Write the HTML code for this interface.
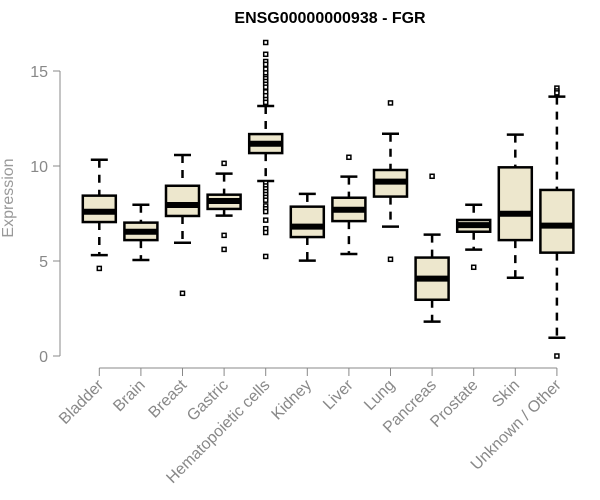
<!DOCTYPE html>
<html><head><meta charset="utf-8"><style>
body{margin:0;background:#fff}
svg{display:block;font-family:"Liberation Sans",Arial,sans-serif}
</style></head><body>
<svg id="chart" width="600" height="500">
<text x="330" y="23" text-anchor="middle" font-size="16" font-weight="bold">ENSG00000000938 - FGR</text>
<text transform="translate(13,198) rotate(-90)" text-anchor="middle" font-size="16" fill="#999">Expression</text>
<g id="yaxis"></g>
<g id="xaxis"></g>
<g id="boxes"></g>
</svg>
<script>
const categories=["Bladder","Brain","Breast","Gastric","Hematopoietic cells","Kidney","Liver","Lung","Pancreas","Prostate","Skin","Unknown / Other"];
const whiskerLow=[5.31,5.05,5.96,7.39,9.21,5.02,5.37,6.81,1.81,5.6,4.12,0.96];
const q1=[7.05,6.1,7.37,7.74,10.68,6.26,7.1,8.39,2.96,6.54,6.1,5.44];
const median=[7.59,6.54,7.95,8.16,11.17,6.81,7.7,9.18,4.07,6.89,7.49,6.86];
const q3=[8.44,7.02,8.96,8.49,11.68,7.86,8.33,9.79,5.18,7.16,9.93,8.74];
const whiskerHigh=[10.33,7.96,10.58,9.6,13.16,8.53,9.44,11.7,6.39,7.96,11.65,13.65];
const outliers=[[4.61],[],[3.3],[10.14,6.35,5.61],
[16.5,15.88,15.5,15.35,15.1,14.9,14.7,14.6,14.45,14.3,14.15,13.9,13.7,13.5,13.35,9.1,8.95,8.8,8.65,8.5,8.35,8.2,7.9,7.75,7.6,7.15,6.7,6.5,5.24],
[],[10.46],[13.32,5.09],[9.46],[4.67],[],[14.1,13.95,13.85,0]];
const yTicks=[0,5,10,15];
const NS="http://www.w3.org/2000/svg";
const y=v=>356-v*19;
const x=i=>99.3+i*41.6;
function mk(tag,attrs,parent){const e=document.createElementNS(NS,tag);for(const k in attrs)e.setAttribute(k,attrs[k]);parent.appendChild(e);return e;}
const ya=document.getElementById('yaxis'),xa=document.getElementById('xaxis'),bx=document.getElementById('boxes');
mk('line',{x1:60,x2:60,y1:y(15),y2:y(0),stroke:'#888','stroke-width':1},ya);
yTicks.forEach(t=>{
 mk('line',{x1:53,x2:60,y1:y(t),y2:y(t),stroke:'#888'},ya);
 const tx=mk('text',{x:48,y:y(t)+6,'text-anchor':'end','font-size':16,fill:'#888'},ya);
 
 
 tx.textContent=t;
});
mk('line',{x1:x(0),x2:x(11),y1:368,y2:368,stroke:'#888'},xa);
categories.forEach((c,i)=>{
 mk('line',{x1:x(i),x2:x(i),y1:368,y2:376,stroke:'#888'},xa);
 const tx=mk('text',{transform:`translate(${x(i)+5},386) rotate(-45)`,'text-anchor':'end','font-size':16,fill:'#888'},xa);
 
 
 tx.textContent=c;
 const g=mk('g',{},bx);
 
 
 const cx=x(i),w=33,cw=17;
 mk('line',{x1:cx,x2:cx,y1:y(whiskerHigh[i]),y2:y(q3[i]),stroke:'#000','stroke-width':2.5,'stroke-dasharray':'8,7'},g);
 mk('line',{x1:cx,x2:cx,y1:y(q1[i]),y2:y(whiskerLow[i]),stroke:'#000','stroke-width':2.5,'stroke-dasharray':'8,7'},g);
 mk('line',{x1:cx-cw/2,x2:cx+cw/2,y1:y(whiskerHigh[i]),y2:y(whiskerHigh[i]),stroke:'#000','stroke-width':2.5},g);
 mk('line',{x1:cx-cw/2,x2:cx+cw/2,y1:y(whiskerLow[i]),y2:y(whiskerLow[i]),stroke:'#000','stroke-width':2.5},g);
 mk('rect',{x:cx-w/2,y:y(q3[i]),width:w,height:y(q1[i])-y(q3[i]),fill:'#ede7cd',stroke:'#000','stroke-width':2.5},g);
 mk('line',{x1:cx-w/2,x2:cx+w/2,y1:y(median[i]),y2:y(median[i]),stroke:'#000','stroke-width':6},g);
 outliers[i].forEach(v=>{
  const o=mk('rect',{x:cx-2,y:y(v)-2,width:4,height:4,fill:'#fff',stroke:'#000','stroke-width':1.5},g);
  
  
 });
});
</script>
</body></html>
